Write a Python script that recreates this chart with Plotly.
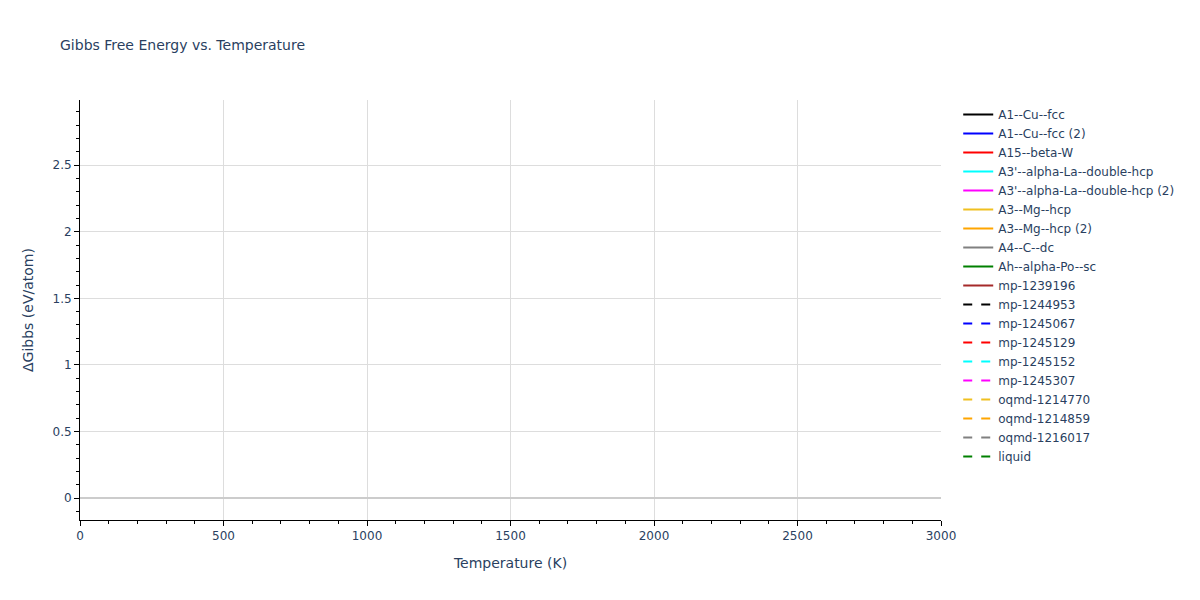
import plotly.graph_objects as go

# Series shown in the legend (no data visible inside the plotted range)
series_names = [
    "A1--Cu--fcc", "A1--Cu--fcc (2)", "A15--beta-W", "A3'--alpha-La--double-hcp",
    "A3'--alpha-La--double-hcp (2)", "A3--Mg--hcp", "A3--Mg--hcp (2)", "A4--C--dc",
    "Ah--alpha-Po--sc", "mp-1239196", "mp-1244953", "mp-1245067", "mp-1245129",
    "mp-1245152", "mp-1245307", "oqmd-1214770", "oqmd-1214859", "oqmd-1216017", "liquid",
]
series_colors = [
    "black", "blue", "red", "cyan", "magenta", "#f0c020", "orange", "gray", "green",
    "brown", "black", "blue", "red", "cyan", "magenta", "#f0c020", "orange", "gray", "green",
]
series_dash = ["solid"] * 10 + ["dash"] * 9
temperatures = [0, 3000]
gibbs_values = [None, None]   # no values visible

fig = go.Figure()
for name, color, dash in zip(series_names, series_colors, series_dash):
    fig.add_trace(go.Scatter(x=temperatures, y=gibbs_values, mode="lines", name=name,
                             line=dict(color=color, dash=dash, width=2)))

fig.update_layout(
    width=1200, height=600,
    title=dict(text="Gibbs Free Energy vs. Temperature", font=dict(size=14)),
    template="plotly_white",
    paper_bgcolor="white", plot_bgcolor="white",
    margin=dict(l=80, r=259, t=100, b=80, autoexpand=False),
    font=dict(family="DejaVu Sans, Verdana, sans-serif", color="#2a3f5f", size=12),
    legend=dict(font=dict(size=12), tracegroupgap=0, x=1.02, y=1),
    showlegend=True,
)
fig.update_xaxes(
    title=dict(text="Temperature (K)", font=dict(size=14)),
    range=[0, 3000], dtick=500, showline=True, linecolor="black", linewidth=1,
    ticks="outside", ticklen=5, tickcolor="black",
    minor=dict(dtick=100, ticks="outside", ticklen=3, tickcolor="black", showgrid=False),
    showgrid=True, gridcolor="#dddddd", zeroline=False,
)
fig.update_yaxes(
    title=dict(text="ΔGibbs (eV/atom)", font=dict(size=14)),
    range=[-0.165, 2.99], dtick=0.5, showline=True, linecolor="black", linewidth=1,
    ticks="outside", ticklen=5, tickcolor="black",
    minor=dict(dtick=0.1, ticks="outside", ticklen=3, tickcolor="black", showgrid=False),
    showgrid=True, gridcolor="#dddddd", zeroline=True, zerolinecolor="#cccccc", zerolinewidth=2,
)
fig.write_html("out.html", config={"displayModeBar": False},
               post_script="document.body.style.margin='0';")
